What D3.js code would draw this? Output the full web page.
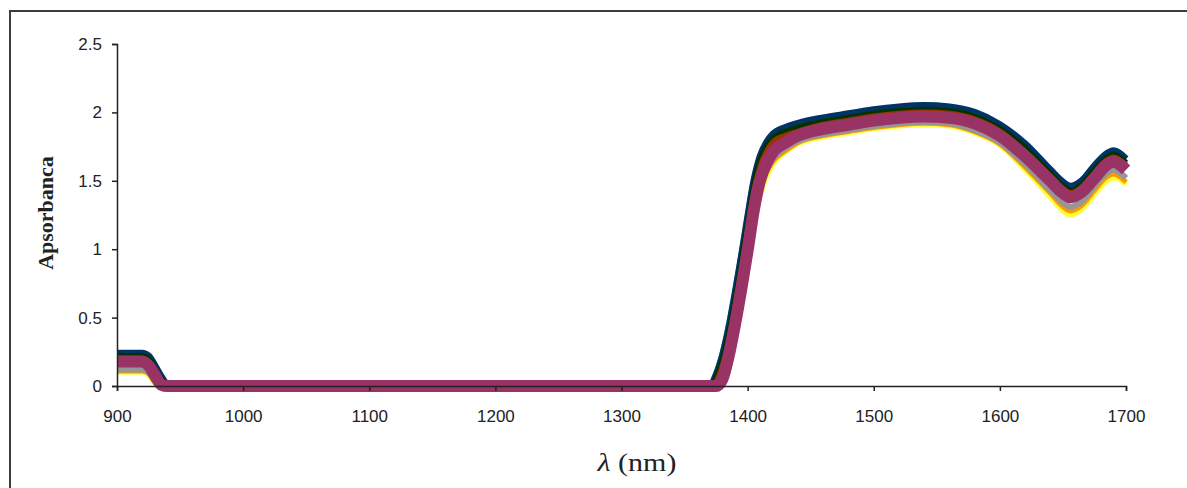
<!DOCTYPE html>
<html>
<head>
<meta charset="utf-8">
<script src="https://cdn.jsdelivr.net/npm/d3@7"></script>
<style>
  body { margin: 0; background: #fff; }
  svg { display: block; }
</style>
</head>
<body>
<div id="svg-wrapper"></div>
<script>
// wavelengths (nm) shared by all series
var wavelengths = [900, 920, 925, 930, 935, 940, 945, 1370, 1375, 1380, 1385, 1390, 1395, 1400, 1405,
  1410, 1415, 1420, 1430, 1440, 1460, 1480, 1500, 1520, 1540, 1560, 1580, 1600, 1620, 1640,
  1650, 1656, 1665, 1675, 1685, 1690, 1695, 1700];

var navy = [0.24, 0.24, 0.22, 0.15, 0.07, 0.01, 0, 0, 0.08, 0.22, 0.42, 0.67, 0.94, 1.23, 1.50,
  1.68, 1.78, 1.84, 1.89, 1.92, 1.96, 1.99, 2.02, 2.04, 2.05, 2.04, 2.00, 1.91, 1.77, 1.58,
  1.49, 1.46, 1.50, 1.61, 1.70, 1.72, 1.70, 1.66];
var darkGreen = [0.22, 0.22, 0.20, 0.13, 0.05, 0, 0, 0, 0.06, 0.19, 0.38, 0.62, 0.89, 1.18, 1.46,
  1.65, 1.75, 1.81, 1.86, 1.89, 1.93, 1.96, 1.99, 2.01, 2.02, 2.01, 1.97, 1.88, 1.74, 1.55,
  1.46, 1.43, 1.47, 1.58, 1.67, 1.69, 1.67, 1.63];
var cyan = [0.21, 0.21, 0.19, 0.12, 0.05, 0, 0, 0.01, 0.10, 0.25, 0.46, 0.71, 0.98, 1.26, 1.52,
  1.68, 1.77, 1.82, 1.86, 1.89, 1.93, 1.96, 1.98, 2.00, 2.01, 2.00, 1.96, 1.87, 1.72, 1.53,
  1.44, 1.41, 1.45, 1.56, 1.65, 1.67, 1.66, 1.62];
var yellow = [0.10, 0.10, 0.08, 0.02, 0, 0, 0, 0, 0, 0.02, 0.15, 0.36, 0.61, 0.88, 1.17,
  1.39, 1.53, 1.62, 1.71, 1.77, 1.82, 1.85, 1.88, 1.90, 1.91, 1.90, 1.85, 1.76, 1.58, 1.38,
  1.28, 1.25, 1.29, 1.40, 1.50, 1.52, 1.51, 1.47];
var orange = [0.11, 0.11, 0.09, 0.03, 0, 0, 0, 0, 0, 0.03, 0.17, 0.39, 0.64, 0.91, 1.20,
  1.42, 1.56, 1.64, 1.72, 1.78, 1.83, 1.86, 1.89, 1.91, 1.92, 1.91, 1.86, 1.77, 1.60, 1.41,
  1.31, 1.28, 1.32, 1.43, 1.53, 1.55, 1.53, 1.49];
var gray = [0.12, 0.12, 0.10, 0.04, 0, 0, 0, 0, 0, 0.04, 0.19, 0.41, 0.66, 0.93, 1.23,
  1.45, 1.58, 1.66, 1.74, 1.79, 1.84, 1.87, 1.90, 1.92, 1.93, 1.92, 1.87, 1.78, 1.62, 1.43,
  1.34, 1.31, 1.35, 1.46, 1.56, 1.58, 1.56, 1.52];
var brown = [0.20, 0.20, 0.17, 0.10, 0.03, 0, 0, 0, 0.03, 0.14, 0.32, 0.56, 0.83, 1.12, 1.41,
  1.60, 1.71, 1.78, 1.83, 1.86, 1.91, 1.94, 1.97, 1.99, 2.00, 1.99, 1.95, 1.86, 1.71, 1.53,
  1.44, 1.41, 1.45, 1.55, 1.65, 1.67, 1.65, 1.61];
var maroon = [0.18, 0.18, 0.15, 0.08, 0.01, 0, 0, 0, 0, 0.05, 0.22, 0.45, 0.71, 0.99, 1.29,
  1.51, 1.63, 1.71, 1.78, 1.83, 1.88, 1.91, 1.94, 1.96, 1.97, 1.96, 1.92, 1.83, 1.68, 1.50,
  1.41, 1.38, 1.42, 1.52, 1.62, 1.64, 1.62, 1.58];

var series = [
  {name: "yellow", values: yellow, color: "#ffff33", width: 5},
  {name: "orange", values: orange, color: "#ff9900", width: 5},
  {name: "gray", values: gray, color: "#969696", width: 6},
  {name: "cyan", values: cyan, color: "#33cccc", width: 5},
  {name: "navy", values: navy, color: "#003366", width: 7},
  {name: "darkGreen", values: darkGreen, color: "#003300", width: 6},
  {name: "brown", values: brown, color: "#993300", width: 6},
  {name: "maroon", values: maroon, color: "#993366", width: 12}
];

var xTicks = [900, 1000, 1100, 1200, 1300, 1400, 1500, 1600, 1700];
var yTicks = [0, 0.5, 1, 1.5, 2, 2.5];

var width = 1187;
var height = 488;

var svg = d3.select("#svg-wrapper")
  .append("svg")
  .attr("width", width)
  .attr("height", height);

// outer frame (top and left edges visible)
svg.append("path")
  .attr("d", "M10,500 L10,11 L1190,11")
  .attr("fill", "none")
  .attr("stroke", "#3c3c3c")
  .attr("stroke-width", 2);

var x = d3.scaleLinear().domain([900, 1700]).range([117, 1126]);
var y = d3.scaleLinear().domain([0, 2.5]).range([386, 44]);

var line = d3.line()
  .x((d, i) => x(wavelengths[i]))
  .y(d => y(d))
  .curve(d3.curveMonotoneX);

svg.append("g")
  .selectAll("path")
  .data(series)
  .join("path")
  .attr("d", d => line(d.values))
  .attr("fill", "none")
  .attr("stroke", d => d.color)
  .attr("stroke-width", d => d.width)
  .attr("stroke-linejoin", "round");

var xAxis = svg.append("g")
  .attr("transform", "translate(0,386)")
  .call(d3.axisBottom(x).tickValues(xTicks).tickSize(5).tickSizeOuter(5).tickPadding(19).tickFormat(d3.format("d")));

var yAxis = svg.append("g")
  .attr("transform", "translate(117,0)")
  .call(d3.axisLeft(y).tickValues(yTicks).tickSize(5).tickSizeOuter(5).tickPadding(10).tickFormat(d => d));

[xAxis, yAxis].forEach(a => {
  a.select(".domain").attr("stroke", "#222").attr("stroke-width", 1.5);
  a.selectAll(".tick line").attr("stroke", "#222").attr("stroke-width", 1.5);
  a.selectAll("text")
    .attr("font-family", "Liberation Sans, Arial, sans-serif")
    .attr("font-size", 17)
    .attr("fill", "#222");
});

svg.append("text")
  .attr("transform", "translate(53,213) rotate(-90)")
  .attr("text-anchor", "middle")
  .attr("font-family", "Liberation Serif, Times New Roman, serif")
  .attr("font-weight", "bold")
  .attr("font-size", 22)
  .attr("fill", "#222")
  .text("Apsorbanca");

var xl = svg.append("text")
  .attr("transform", "translate(637,471) scale(1.2,1)")
  .attr("text-anchor", "middle")
  .attr("font-family", "Liberation Serif, Times New Roman, serif")
  .attr("font-size", 25)
  .attr("fill", "#222");
xl.append("tspan").attr("font-style", "italic").text("λ");
xl.append("tspan").text(" (nm)");
</script>
</body>
</html>
